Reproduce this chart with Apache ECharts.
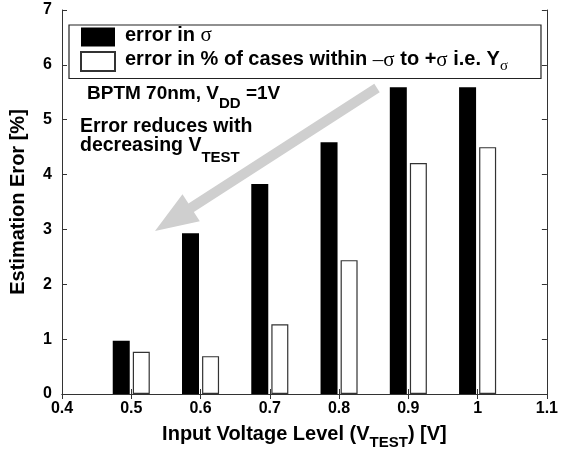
<!DOCTYPE html>
<html><head><meta charset="utf-8">
<script src="https://cdn.jsdelivr.net/npm/echarts@6/dist/echarts.min.js"></script>
<style>html,body{margin:0;padding:0;background:#fff}#c{width:561px;height:455px}</style>
</head><body><div id="c"></div>
<script>
// ---- data ----
const voltages = [0.5, 0.6, 0.7, 0.8, 0.9, 1.0];
const errSigma = [0.97, 2.93, 3.83, 4.59, 5.59, 5.59];
const errCases = [0.77, 0.69, 1.27, 2.44, 4.21, 4.50];
const xTicks = { min: 0.4, max: 1.1, step: 0.1 };
const yTicks = { min: 0, max: 7, step: 1 };
const seriesNames = ['error in σ', 'error in % of cases within –σ to +σ i.e. Yσ'];

const FONT = "'Liberation Sans', Arial, Helvetica, sans-serif";
const SERIF = "'Liberation Serif', 'DejaVu Serif', serif";
const AX = '#333';

const chart = echarts.init(document.getElementById('c'), null, { renderer: 'canvas' });

function arrowPoints(tip, tail, headLen, headHalf, shaftHalf) {
  const dx = tail[0] - tip[0], dy = tail[1] - tip[1];
  const len = Math.hypot(dx, dy);
  const ux = dx / len, uy = dy / len;
  const px = -uy, py = ux;
  const bx = tip[0] + ux * headLen, by = tip[1] + uy * headLen;
  return [
    tip,
    [bx + px * headHalf, by + py * headHalf],
    [bx + px * shaftHalf, by + py * shaftHalf],
    [tail[0] + px * shaftHalf, tail[1] + py * shaftHalf],
    [tail[0] - px * shaftHalf, tail[1] - py * shaftHalf],
    [bx - px * shaftHalf, by - py * shaftHalf],
    [bx - px * headHalf, by - py * headHalf]
  ];
}

const xAxisBase = {
  type: 'value', min: xTicks.min, max: xTicks.max, interval: xTicks.step,
  axisLine: { show: true, lineStyle: { color: AX, width: 1 } },
  axisTick: { show: true, inside: true, length: 5, lineStyle: { color: AX } },
  splitLine: { show: false }
};
const yAxisBase = {
  type: 'value', min: yTicks.min, max: yTicks.max, interval: yTicks.step,
  axisLine: { show: true, lineStyle: { color: AX, width: 1 } },
  axisTick: { show: true, inside: true, length: 5, lineStyle: { color: AX } },
  splitLine: { show: false }
};

const option = {
  animation: false,
  backgroundColor: '#fff',
  textStyle: { fontFamily: FONT },
  grid: { left: 62, right: 11, top: 10, bottom: 58, containLabel: false },
  xAxis: [
    Object.assign({}, xAxisBase, {
      position: 'bottom',
      axisLabel: { show: true, color: '#000', fontSize: 16, fontWeight: 'bold', fontFamily: FONT, margin: 7 },
      name: '{a|Input Voltage Level (V}{s|TEST}{a|) [V]}',
      nameLocation: 'middle', nameGap: 30,
      nameTextStyle: {
        color: '#000',
        rich: {
          a: { fontSize: 20, fontWeight: 'bold', fontFamily: FONT, color: '#000', lineHeight: 20, verticalAlign: 'top' },
          s: { fontSize: 15, fontWeight: 'bold', fontFamily: FONT, color: '#000', lineHeight: 15, padding: [11, 0, 0, 0], verticalAlign: 'top' }
        }
      }
    }),
    Object.assign({}, xAxisBase, { position: 'top', axisLabel: { show: false } })
  ],
  yAxis: [
    Object.assign({}, yAxisBase, {
      position: 'left',
      axisLabel: { show: true, color: '#000', fontSize: 16, fontWeight: 'bold', fontFamily: FONT, margin: 10 },
      name: 'Estimation Eror [%]',
      nameLocation: 'middle', nameGap: 34,
      nameTextStyle: { color: '#000', fontSize: 20, fontWeight: 'bold', fontFamily: FONT }
    }),
    Object.assign({}, yAxisBase, { position: 'right', axisLabel: { show: false } })
  ],
  legend: {
    show: true,
    orient: 'vertical',
    left: 69, top: 25,
    padding: [0, 33, 5, 11],
    itemGap: 3,
    itemWidth: 34, itemHeight: 19,
    icon: 'rect',
    selectedMode: false,
    borderColor: '#222', borderWidth: 1.2,
    data: seriesNames,
    formatter: function (name) {
      if (name === seriesNames[0]) return '{t0|error in }{g|σ}';
      return '{t0|error in % of cases within }{g|–σ}{t| to +}{g|σ}{t| i.e. Y}{s|σ}';
    },
    textStyle: {
      color: '#000',
      rich: {
        t0: { fontSize: 20, fontWeight: 'bold', fontFamily: FONT, color: '#000', lineHeight: 24, verticalAlign: 'top', padding: [0, 0, 0, 5] },
        t: { fontSize: 20, fontWeight: 'bold', fontFamily: FONT, color: '#000', lineHeight: 24, verticalAlign: 'top' },
        g: { fontSize: 21, fontFamily: SERIF, color: '#000', lineHeight: 24, verticalAlign: 'top' },
        s: { fontSize: 15, fontFamily: SERIF, color: '#000', lineHeight: 15, padding: [9, 0, 0, 0], verticalAlign: 'top' }
      }
    }
  },
  series: [
    {
      name: seriesNames[0], type: 'bar', xAxisIndex: 0, yAxisIndex: 0,
      barWidth: 17, barGap: '18%',
      itemStyle: { color: '#000', borderWidth: 0 },
      data: voltages.map((v, i) => [v, errSigma[i]])
    },
    {
      name: seriesNames[1], type: 'bar', xAxisIndex: 0, yAxisIndex: 0,
      barWidth: 17, barGap: '18%',
      itemStyle: { color: '#fff', borderColor: '#333', borderWidth: 1.2 },
      data: voltages.map((v, i) => [v, errCases[i]])
    }
  ],
  graphic: [
    {
      type: 'polygon', z: 1, silent: true,
      shape: { points: arrowPoints([155, 231], [377, 88], 43, 16, 5) },
      style: { fill: '#cfcfcf' }
    },
    {
      type: 'text', left: 87, top: 84.5, z: 10,
      style: {
        text: '{a|BPTM 70nm, V}{s|DD}{a| =1V}',
        rich: {
          a: { fontSize: 19, fontWeight: 'bold', fontFamily: FONT, fill: '#000', lineHeight: 19, verticalAlign: 'top' },
          s: { fontSize: 15, fontWeight: 'bold', fontFamily: FONT, fill: '#000', lineHeight: 15, padding: [11.5, 0, 0, 0], verticalAlign: 'top' }
        }
      }
    },
    {
      type: 'text', left: 80, top: 117, z: 10,
      style: {
        text: '{a|Error reduces with}\n{a|decreasing V}{s|TEST}',
        rich: {
          a: { fontSize: 19.5, fontWeight: 'bold', fontFamily: FONT, fill: '#000', lineHeight: 19, verticalAlign: 'top' },
          s: { fontSize: 15, fontWeight: 'bold', fontFamily: FONT, fill: '#000', lineHeight: 15, padding: [14, 0, 0, 0], verticalAlign: 'top' }
        }
      }
    }
  ]
};
chart.setOption(option);
</script>
</body></html>
